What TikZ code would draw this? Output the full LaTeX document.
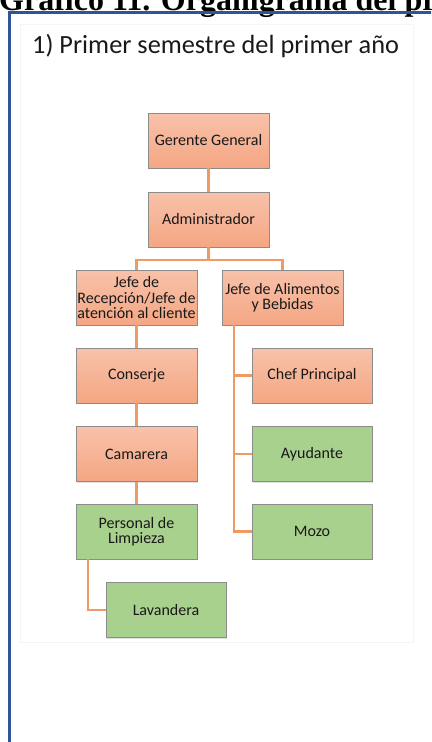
\documentclass[tikz,border=0pt]{standalone}
\usepackage{fontspec}
\setmainfont{Carlito}
\newfontfamily\titlefont{Liberation Serif}
\usetikzlibrary{shadows}
\definecolor{naranja}{HTML}{F4A683}
\definecolor{naranjaclaro}{HTML}{F8C2AA}
\definecolor{verde}{HTML}{A9D18E}
\definecolor{linea}{HTML}{EF9A62}
\definecolor{marco}{HTML}{2F5597}
\begin{document}
\begin{tikzpicture}[x=1bp,y=-1bp]
    \tikzset{
    caja/.style={rectangle,minimum width=121bp,minimum height=55bp,inner sep=0pt,
      align=center,draw=black!45,line width=0.7bp,text=black!90,
      font=\fontsize{16bp}{15.5bp}\selectfont,
      drop shadow={shadow xshift=1.2bp,shadow yshift=-1.2bp,opacity=0.25}},
    rojo/.style={caja,top color=naranjaclaro,bottom color=naranja},
    verd/.style={caja,fill=verde},
    con/.style={draw=linea,line width=2.2bp},
    }
    \useasboundingbox (0,0) rectangle (431,742);
    \clip (0,0) rectangle (431,742);
    % titulo cortado y marco
    \node[anchor=base west,inner sep=0pt,font=\titlefont\bfseries\fontsize{32bp}{32bp}\selectfont] (titulo) at (-1,10.5) {Gráfico 11. Organigrama del pr};
    \draw[black!4,line width=0.8bp] (20,24) rectangle (413,642);
    \draw[marco,line width=3bp] (9.5,760) -- (9.5,12.5) -- (440,12.5);
    \node[anchor=west,inner sep=0pt,font=\fontsize{26.3bp}{26bp}\selectfont,text=black!90] (sem) at (32,46) {1) Primer semestre del primer año};
    % cajas
    \node[rojo] (gg) at (208.5,140.5) {Gerente General};
    \node[rojo] (adm) at (208.5,219.5) {Administrador};
    \node[rojo] (jrec) at (136.5,297.5) {Jefe de\\Recepción/Jefe de\\atención al cliente};
    \node[rojo] (jab) at (282.5,297.5) {Jefe de Alimentos\\y Bebidas};
    \node[rojo] (cons) at (136.5,375.5) {Conserje};
    \node[rojo] (cam) at (136.5,454) {Camarera};
    \node[verd] (lim) at (136.5,531.5) {Personal de\\Limpieza};
    \node[verd,minimum width=120bp] (lav) at (166,610) {Lavandera};
    \node[rojo,minimum width=120bp] (chef) at (312,375.5) {Chef Principal};
    \node[verd,minimum width=120bp] (ayu) at (312,454) {Ayudante};
    \node[verd,minimum width=120bp] (mozo) at (312,531.5) {Mozo};
    % conectores
    \draw[con] (gg.south) -- (adm.north);
    \draw[con] (adm.south) -- ++(0,13) coordinate (bar) -| (jrec.north);
    \draw[con] (bar) -| (jab.north);
    \draw[con] (jrec.south) -- (cons.north);
    \draw[con] (cons.south) -- (cam.north);
    \draw[con] (cam.south) -- (lim.north);
    \draw[con] ([xshift=12bp]lim.south west) |- (lav.west);
    \draw[con] ([xshift=12bp]jab.south west) |- (mozo.west);
    \draw[con] ([xshift=12bp]jab.south west) |- (chef.west);
    \draw[con] ([xshift=12bp]jab.south west) |- (ayu.west);
\end{tikzpicture}
\end{document}
